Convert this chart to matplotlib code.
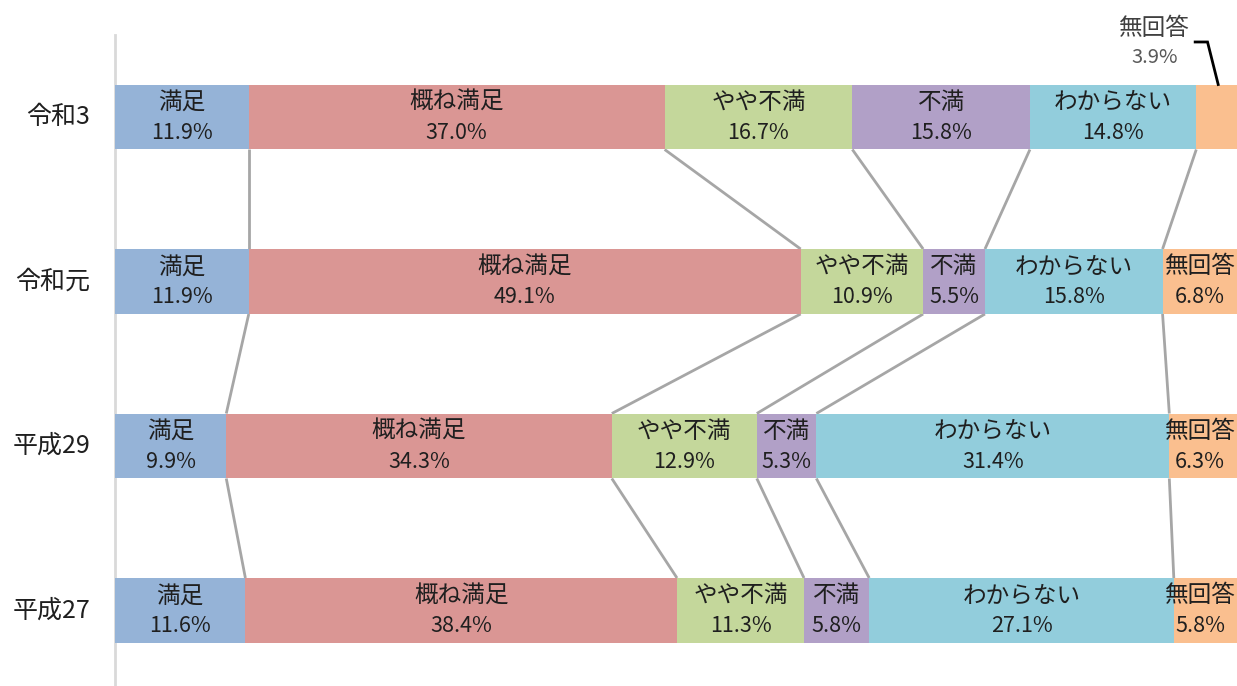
import matplotlib
matplotlib.use("Agg")
import matplotlib.pyplot as plt
import numpy as np

plt.rcParams['font.family'] = ['Noto Sans CJK JP', 'DejaVu Sans']

# Survey years (top to bottom) and answer categories
years = ["令和3", "令和元", "平成29", "平成27"]
categories = ["満足", "概ね満足", "やや不満", "不満", "わからない", "無回答"]
colors = ["#95b3d7", "#da9694", "#c4d79b", "#b1a0c7", "#92cddc", "#fabf8f"]

# Share of each answer (%) per year
r3 = [11.9, 37.0, 16.7, 15.8, 14.8, 3.9]
r1 = [11.9, 49.1, 10.9, 5.5, 15.8, 6.8]
h29 = [9.9, 34.3, 12.9, 5.3, 31.4, 6.3]
h27 = [11.6, 38.4, 11.3, 5.8, 27.1, 5.8]
values = [r3, r1, h29, h27]

W, H = 1237, 686
fig = plt.figure(figsize=(W / 100, H / 100), dpi=100)
x0_px, x100_px = 115, 1239
px_per_pct = (x100_px - x0_px) / 100
ax = fig.add_axes([x0_px / W, 0, (x100_px - x0_px) / W, 1])

row_px0, row_step = 117, 164.5
ax.set_xlim(0, 100)
ax.set_ylim((H - row_px0) / row_step, -row_px0 / row_step)
ax.axis("off")

bar_h = 0.395
text_color = "#1f1f1f"
fs_cat = 17
fs_pct = 15.5
fs_year = 18
# keep labels of the right-most segment inside the canvas
max_label_x = (W - 37 - x0_px) / px_per_pct

ypos = np.arange(len(years))
cums = []
for i, vals in enumerate(values):
    left = np.concatenate([[0], np.cumsum(vals)[:-1]])
    cums.append(np.cumsum(vals))
    ax.barh(ypos[i], vals, left=left, height=bar_h, color=colors, edgecolor="none", zorder=2)
    for j, (v, l) in enumerate(zip(vals, left)):
        if i == 0 and j == len(vals) - 1:
            continue
        cx = min(l + v / 2, max_label_x)
        ax.text(cx, ypos[i] - 0.09, categories[j], ha="center", va="center",
                fontsize=fs_cat, color=text_color, zorder=3)
        ax.text(cx, ypos[i] + 0.095, f"{v:.1f}%", ha="center", va="center",
                fontsize=fs_pct, color=text_color, zorder=3)
    ax.text(-25 / px_per_pct, ypos[i], years[i], ha="right", va="center",
            fontsize=fs_year, color=text_color)

# Connector lines between segment boundaries of consecutive years
for i in range(len(values) - 1):
    for k in range(len(categories) - 1):
        ax.plot([cums[i][k], cums[i + 1][k]],
                [ypos[i] + bar_h / 2, ypos[i + 1] - bar_h / 2],
                color="#a6a6a6", lw=2, zorder=1, solid_capstyle="butt")

# Callout for the small last segment of the top row
last_v = r3[-1]
last_c = cums[0][-2] + last_v / 2
ax.text(92.5, -0.54, categories[-1], ha="center", va="center", fontsize=fs_cat, color="#404040")
ax.text(92.5, -0.36, f"{last_v:.1f}%", ha="center", va="center", fontsize=fs_pct - 1, color="#595959")
ax.plot([96.1, 97.2, last_c], [-0.456, -0.456, ypos[0] - bar_h / 2],
        color="black", lw=2, zorder=3, solid_joinstyle="miter")

# Left axis line
ax.plot([0, 0], [(35 - row_px0) / row_step, (H - row_px0) / row_step],
        color="#d9d9d9", lw=2, zorder=0, clip_on=False)

fig.savefig("out.png", dpi=100)
